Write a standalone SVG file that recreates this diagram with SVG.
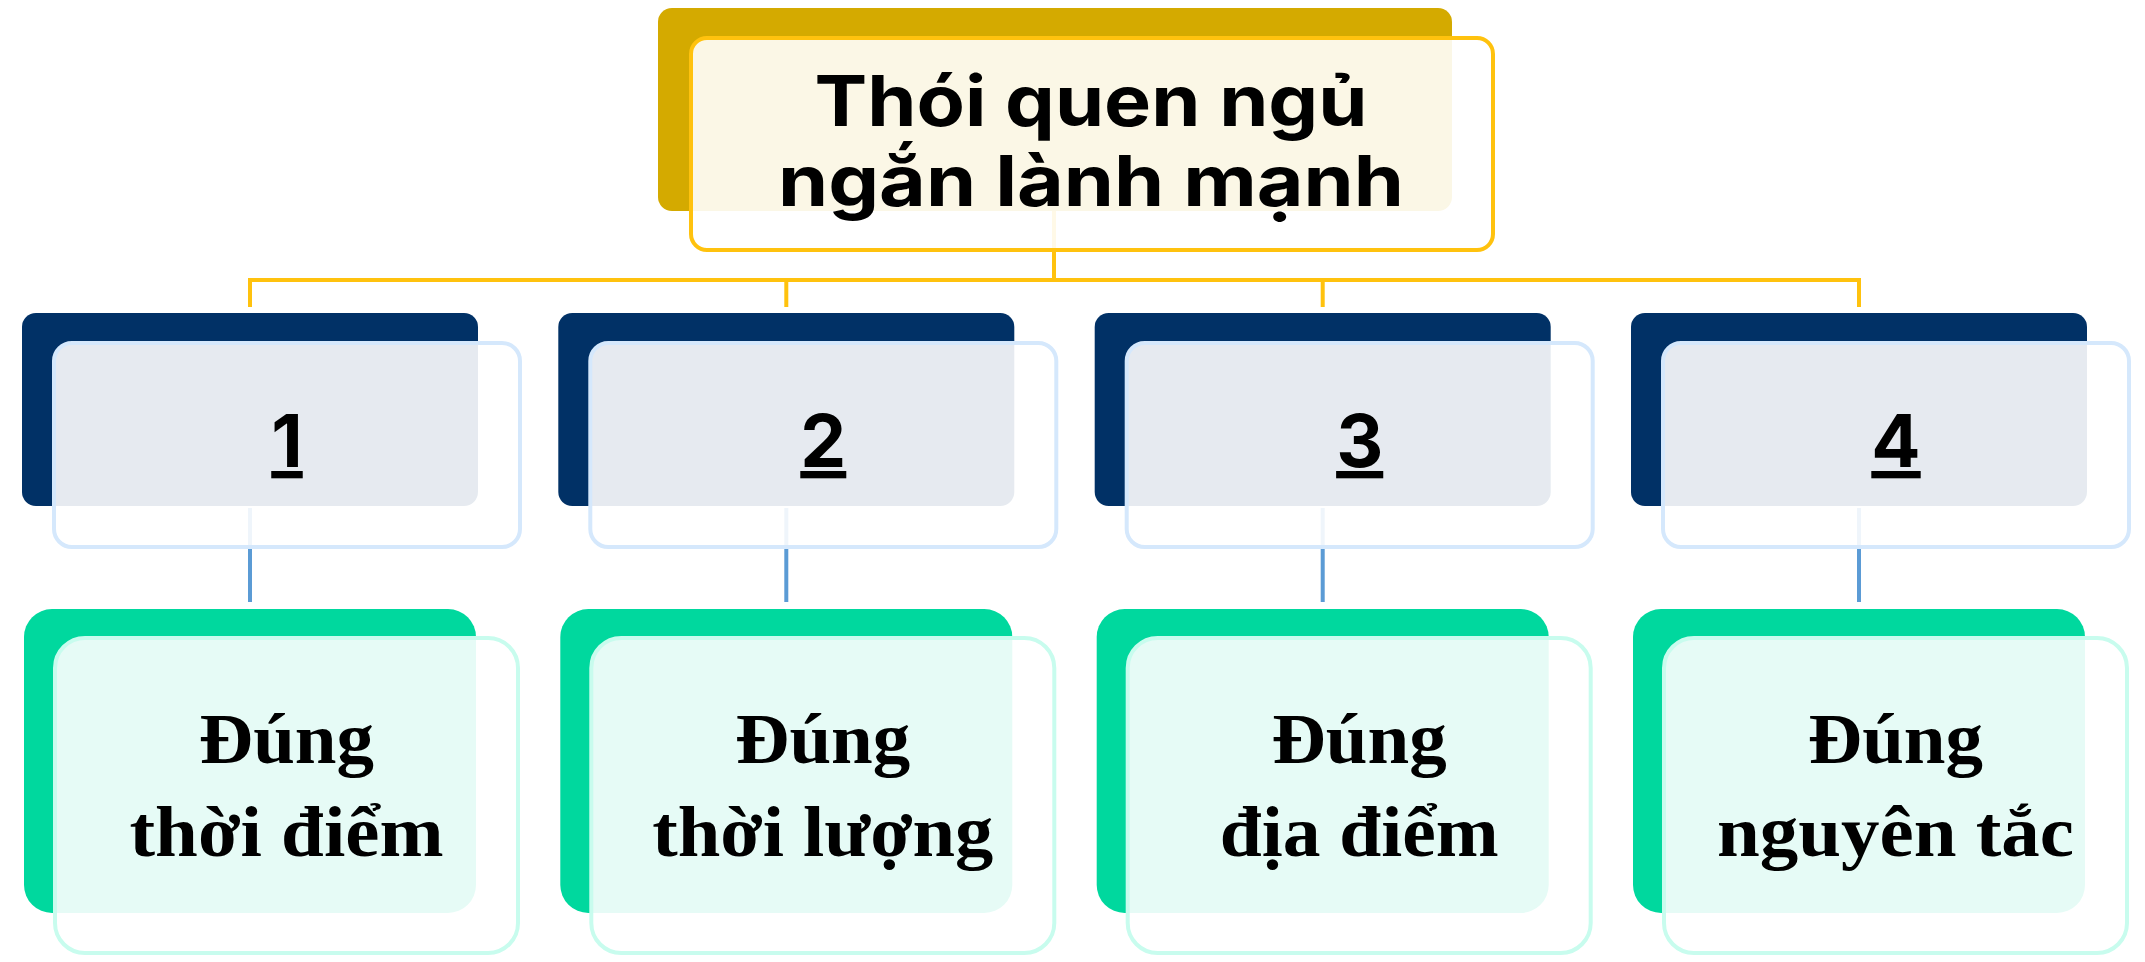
<svg xmlns="http://www.w3.org/2000/svg" width="2145" height="962" viewBox="0 0 2145 962">
<style>
.bg{fill:#ffffff}
.gold{fill:#d4aa00}
.navy{fill:#013166}
.green{fill:#00d89e}
.ftop{fill:#ffffff;fill-opacity:0.9;stroke:#ffc20e;stroke-width:4}
.f1{fill:#ffffff;fill-opacity:0.9;stroke:#d5e8fc;stroke-width:4}
.f2{fill:#ffffff;fill-opacity:0.9;stroke:#c8fcee;stroke-width:4}
.cy{stroke:#ffc20e;stroke-width:4;fill:none}
.cb{stroke:#5b9bd5;stroke-width:4;fill:none}
.title{font-family:Inter,"Open Sans","DejaVu Sans",sans-serif;font-weight:700;font-size:70px;fill:#000;text-anchor:middle}
.num{font-family:Inter,"Open Sans","DejaVu Sans",sans-serif;font-weight:700;font-size:73px;fill:#000;text-anchor:middle;text-decoration:underline}
.lab{font-family:"Liberation Serif","DejaVu Serif",serif;font-weight:700;font-size:72px;fill:#000;text-anchor:middle}
</style>
<rect class="bg" x="0" y="0" width="2145" height="962"/>
<g id="connectors">
<path class="cy" d="M1054 211V280M248 280H1861M250 280V307M786.3 280V307M1322.7 280V307M1859 280V307"/>
<path class="cb" d="M250 508V602M786.3 508V602M1322.7 508V602M1859 508V602"/>
</g>
<g id="root">
<rect class="gold" x="658" y="8" width="794" height="203" rx="14"/>
<rect class="ftop" x="691" y="38" width="802" height="212" rx="16"/>
<text class="title" x="1091" y="126" textLength="553" lengthAdjust="spacingAndGlyphs">Thói quen ngủ</text>
<text class="title" x="1091" y="206" textLength="626" lengthAdjust="spacingAndGlyphs">ngắn lành mạnh</text>
</g>
<g id="n1">
<rect class="navy" x="22" y="313" width="456" height="193" rx="14"/>
<rect class="f1" x="54" y="343" width="466" height="204" rx="18"/>
<text class="num" x="287" y="467">1</text>
</g>
<g id="n2">
<rect class="navy" x="558.3" y="313" width="456" height="193" rx="14"/>
<rect class="f1" x="590.3" y="343" width="466" height="204" rx="18"/>
<text class="num" x="823.3" y="467">2</text>
</g>
<g id="n3">
<rect class="navy" x="1094.7" y="313" width="456" height="193" rx="14"/>
<rect class="f1" x="1126.7" y="343" width="466" height="204" rx="18"/>
<text class="num" x="1359.7" y="467">3</text>
</g>
<g id="n4">
<rect class="navy" x="1631" y="313" width="456" height="193" rx="14"/>
<rect class="f1" x="1663" y="343" width="466" height="204" rx="18"/>
<text class="num" x="1896" y="467">4</text>
</g>
<g id="d1">
<rect class="green" x="24" y="609" width="452" height="304" rx="28"/>
<rect class="f2" x="55" y="638" width="463" height="315" rx="30"/>
<text class="lab" x="286.5" y="763" textLength="175" lengthAdjust="spacingAndGlyphs">Đúng</text>
<text class="lab" x="286.5" y="856" textLength="314" lengthAdjust="spacingAndGlyphs">thời điểm</text>
</g>
<g id="d2">
<rect class="green" x="560.3" y="609" width="452" height="304" rx="28"/>
<rect class="f2" x="591.3" y="638" width="463" height="315" rx="30"/>
<text class="lab" x="822.8" y="763" textLength="175" lengthAdjust="spacingAndGlyphs">Đúng</text>
<text class="lab" x="822.8" y="856" textLength="341" lengthAdjust="spacingAndGlyphs">thời lượng</text>
</g>
<g id="d3">
<rect class="green" x="1096.7" y="609" width="452" height="304" rx="28"/>
<rect class="f2" x="1127.7" y="638" width="463" height="315" rx="30"/>
<text class="lab" x="1359.2" y="763" textLength="175" lengthAdjust="spacingAndGlyphs">Đúng</text>
<text class="lab" x="1359.2" y="856" textLength="279" lengthAdjust="spacingAndGlyphs">địa điểm</text>
</g>
<g id="d4">
<rect class="green" x="1633" y="609" width="452" height="304" rx="28"/>
<rect class="f2" x="1664" y="638" width="463" height="315" rx="30"/>
<text class="lab" x="1895.5" y="763" textLength="175" lengthAdjust="spacingAndGlyphs">Đúng</text>
<text class="lab" x="1895.5" y="856" textLength="357" lengthAdjust="spacingAndGlyphs">nguyên tắc</text>
</g>
</svg>
